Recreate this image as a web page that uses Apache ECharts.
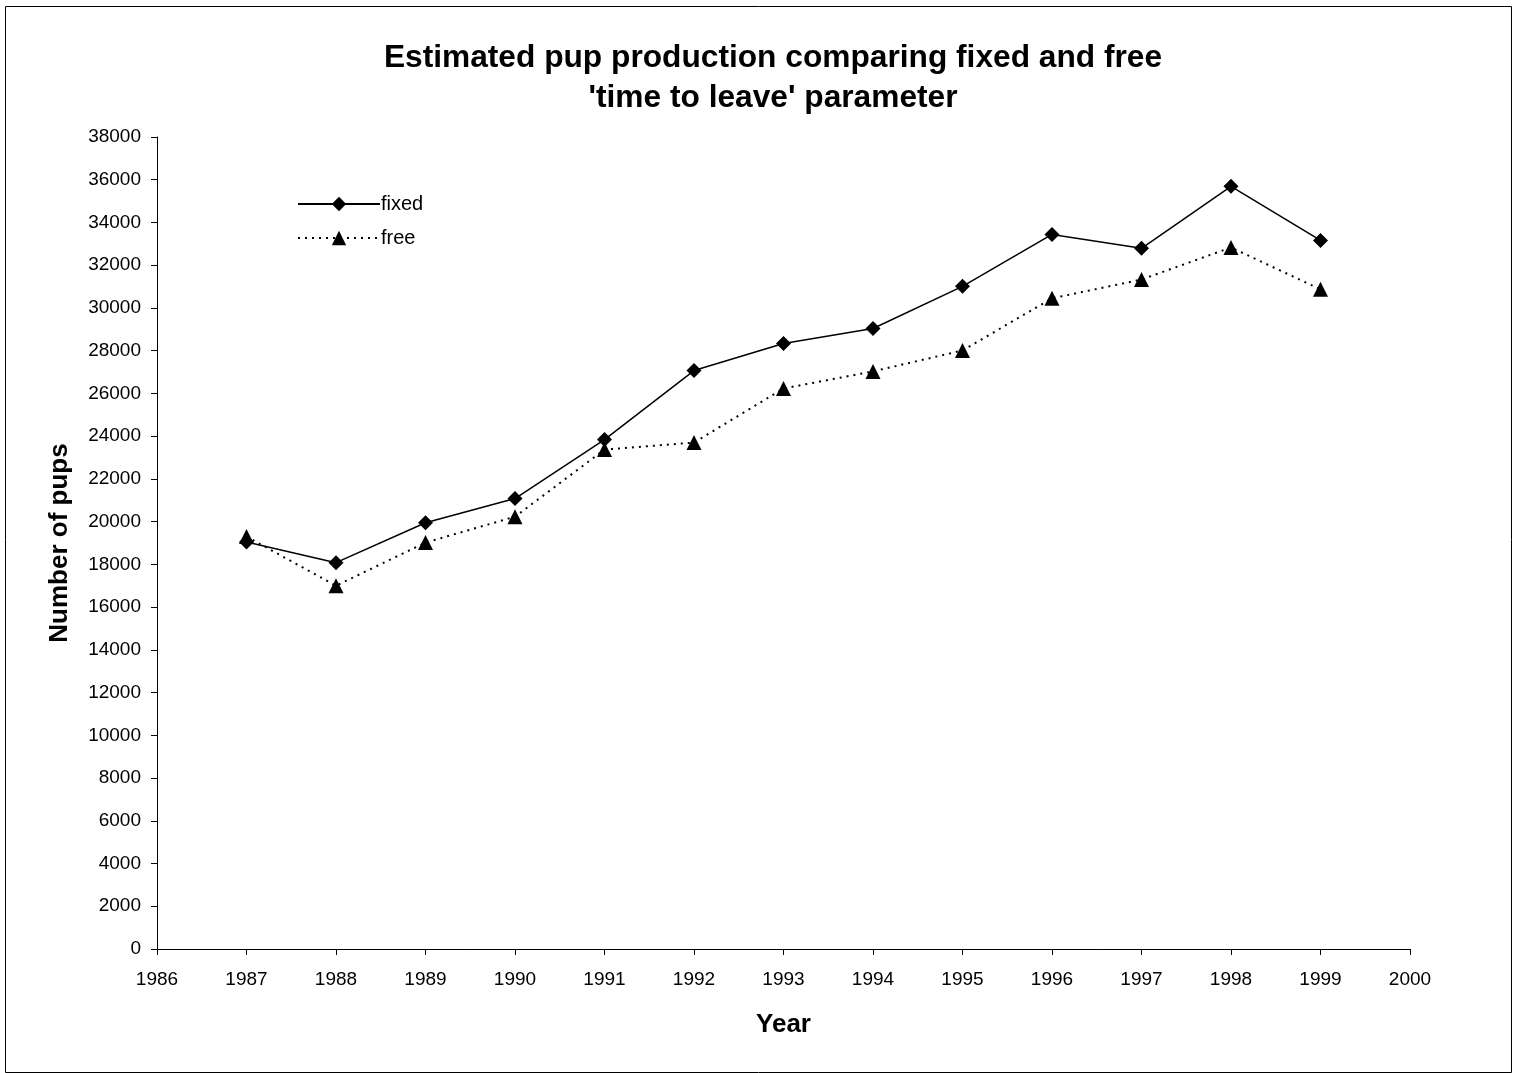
<!DOCTYPE html>
<html>
<head>
<meta charset="utf-8">
<script src="https://cdn.jsdelivr.net/npm/echarts@6/dist/echarts.min.js"></script>
<style>
html,body{margin:0;padding:0;background:#fff;}
#c{width:1513px;height:1073px;}
</style>
</head>
<body>
<div id="c"></div>
<script>
var years = [1987,1988,1989,1990,1991,1992,1993,1994,1995,1996,1997,1998,1999];
var fixedVals = [19050,18080,19950,21080,23840,27070,28340,29040,31010,33440,32790,35690,33160];
var freeVals  = [19300,17000,19020,20230,23370,23700,26230,27030,28010,30450,31330,32830,30870];
var titleLines = ["Estimated pup production comparing fixed and free", "'time to leave' parameter"];

function pairs(xs, ys){ return xs.map(function(x,i){ return [x, ys[i]]; }); }
function plain(v){ return String(v); }

var chart = echarts.init(document.getElementById('c'), null, {renderer:'canvas'});
var font = 'Liberation Sans, Arial, sans-serif';
chart.setOption({
  animation:false,
  backgroundColor:'#fff',
  title:{
    text: titleLines.join('\n'),
    left:768, top:33,
    textAlign:'center',
    textStyle:{fontFamily:font, fontSize:31.7, fontWeight:'bold', color:'#000', lineHeight:40}
  },
  graphic:[{
    type:'rect', shape:{x:5.5,y:6.5,width:1506,height:1066},
    style:{fill:'none', stroke:'#000', lineWidth:1}, silent:true
  }],
  legend:{
    left:292, top:189, orient:'vertical', itemGap:14,
    itemWidth:82, itemHeight:18,
    textStyle:{fontFamily:font, fontSize:20, color:'#000', padding:[0,0,0,-4]},
    data:['fixed','free']
  },
  grid:{left:157, right:103, top:137, bottom:124, containLabel:false},
  xAxis:{
    type:'value', min:1986, max:2000, interval:1,
    name:'Year', nameLocation:'middle', nameGap:63,
    nameTextStyle:{fontFamily:font, fontSize:26, fontWeight:'bold', color:'#000'},
    axisLine:{lineStyle:{color:'#000', width:1}},
    axisTick:{length:6, lineStyle:{color:'#000'}},
    axisLabel:{fontFamily:font, fontSize:19, color:'#000', margin:21, formatter:plain},
    splitLine:{show:false}
  },
  yAxis:{
    type:'value', min:0, max:38000, interval:2000,
    name:'Number of pups', nameLocation:'middle', nameGap:84,
    nameTextStyle:{fontFamily:font, fontSize:26, fontWeight:'bold', color:'#000'},
    axisLine:{show:true, lineStyle:{color:'#000', width:1}},
    axisTick:{show:true, length:6, lineStyle:{color:'#000'}},
    axisLabel:{fontFamily:font, fontSize:19, color:'#000', margin:16, formatter:plain},
    splitLine:{show:false}
  },
  series:[
    {
      name:'fixed', type:'line', data:pairs(years, fixedVals),
      symbol:'diamond', symbolSize:15,
      lineStyle:{color:'#000', width:1.5, type:'solid'},
      itemStyle:{color:'#000'}
    },
    {
      name:'free', type:'line', data:pairs(years, freeVals),
      symbol:'triangle', symbolSize:15,
      lineStyle:{color:'#000', width:2, type:[2,5]},
      itemStyle:{color:'#000'}
    }
  ]
});
</script>
</body>
</html>
